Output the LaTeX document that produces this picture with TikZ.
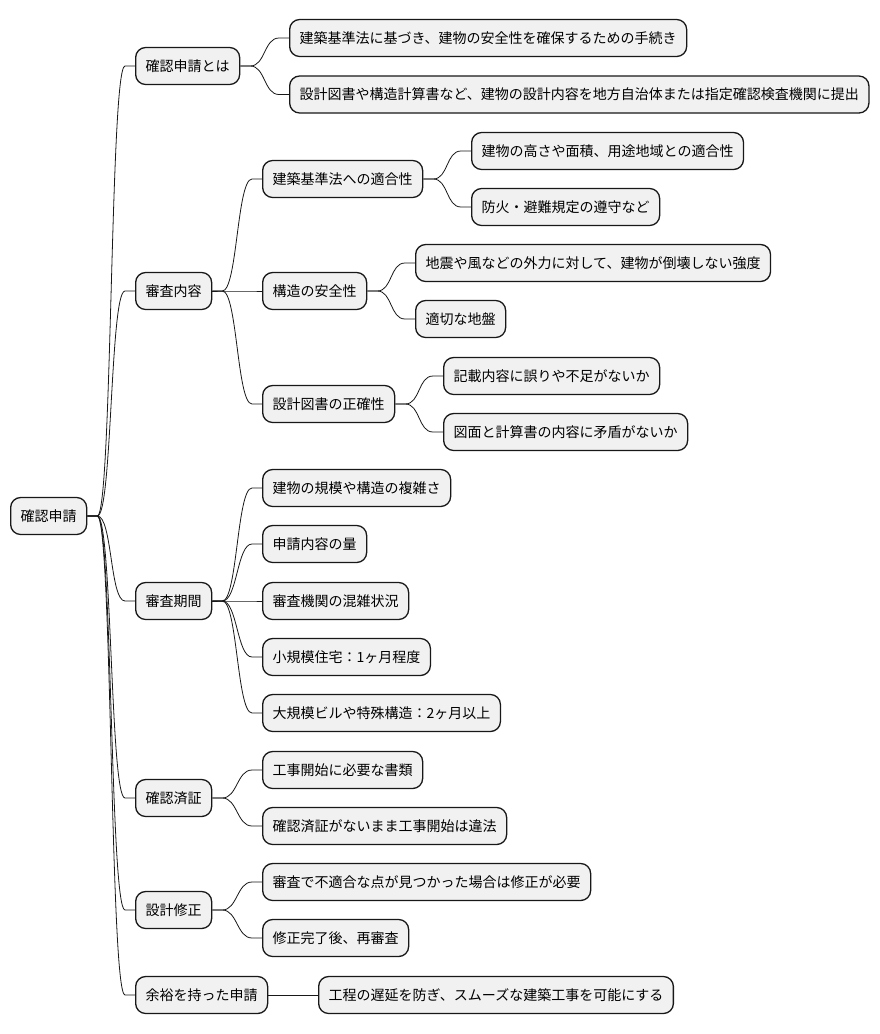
\documentclass[tikz,border=0pt]{standalone}
\usepackage{fontspec}
\setmainfont{Noto Sans CJK JP}
\definecolor{boxfill}{HTML}{F1F1F1}
\definecolor{boxline}{HTML}{181818}
\tikzset{
  box/.style={draw=boxline, fill=boxfill, line width=1.3pt, rounded corners=10pt,
    anchor=west, minimum height=37pt, inner xsep=10pt, inner ysep=0pt,
    text height=12pt, text depth=2pt, font=\fontsize{14pt}{16pt}\selectfont},
  edge/.style={draw=boxline, line width=0.8pt}
}
\newcommand{\conn}[2]{\draw[edge] (#1.east) -- ++(10,0) .. controls +(15,0) and ([xshift=-25pt]#2.west) .. ([xshift=-10pt]#2.west) -- (#2.west);}
\begin{document}
\begin{tikzpicture}[x=1pt,y=-1pt]
\useasboundingbox[fill=white] (0,0) rectangle (880,1034);
\node[box] (r) at (10,516) {確認申請};
\node[box] (a) at (135,66) {確認申請とは};
\node[box] (a1) at (289,38) {建築基準法に基づき、建物の安全性を確保するための手続き};
\node[box] (a2) at (289,94.5) {設計図書や構造計算書など、建物の設計内容を地方自治体または指定確認検査機関に提出};
\node[box] (b) at (135,291) {審査内容};
\node[box] (b1) at (262,179) {建築基準法への適合性};
\node[box] (b11) at (471,151) {建物の高さや面積、用途地域との適合性};
\node[box] (b12) at (471,207) {防火・避難規定の遵守など};
\node[box] (b2) at (262,291) {構造の安全性};
\node[box] (b21) at (415,263) {地震や風などの外力に対して、建物が倒壊しない強度};
\node[box] (b22) at (415,319) {適切な地盤};
\node[box] (b3) at (262,404) {設計図書の正確性};
\node[box] (b31) at (443,376) {記載内容に誤りや不足がないか};
\node[box] (b32) at (443,432) {図面と計算書の内容に矛盾がないか};
\node[box] (c) at (135,601) {審査期間};
\node[box] (c1) at (262,488) {建物の規模や構造の複雑さ};
\node[box] (c2) at (262,544) {申請内容の量};
\node[box] (c3) at (262,601) {審査機関の混雑状況};
\node[box] (c4) at (262,657) {小規模住宅：1ヶ月程度};
\node[box] (c5) at (262,713) {大規模ビルや特殊構造：2ヶ月以上};
\node[box] (d) at (135,798) {確認済証};
\node[box] (d1) at (262,770) {工事開始に必要な書類};
\node[box] (d2) at (262,826) {確認済証がないまま工事開始は違法};
\node[box] (e) at (135,910) {設計修正};
\node[box] (e1) at (262,882) {審査で不適合な点が見つかった場合は修正が必要};
\node[box] (e2) at (262,938) {修正完了後、再審査};
\node[box] (f) at (135,995) {余裕を持った申請};
\node[box] (f1) at (318,995) {工程の遅延を防ぎ、スムーズな建築工事を可能にする};
\conn{r}{a}\conn{r}{b}\conn{r}{c}\conn{r}{d}\conn{r}{e}\conn{r}{f}
\conn{a}{a1}\conn{a}{a2}
\conn{b}{b1}\conn{b}{b2}\conn{b}{b3}
\conn{b1}{b11}\conn{b1}{b12}
\conn{b2}{b21}\conn{b2}{b22}
\conn{b3}{b31}\conn{b3}{b32}
\conn{c}{c1}\conn{c}{c2}\conn{c}{c3}\conn{c}{c4}\conn{c}{c5}
\conn{d}{d1}\conn{d}{d2}
\conn{e}{e1}\conn{e}{e2}
\conn{f}{f1}
\end{tikzpicture}
\end{document}
